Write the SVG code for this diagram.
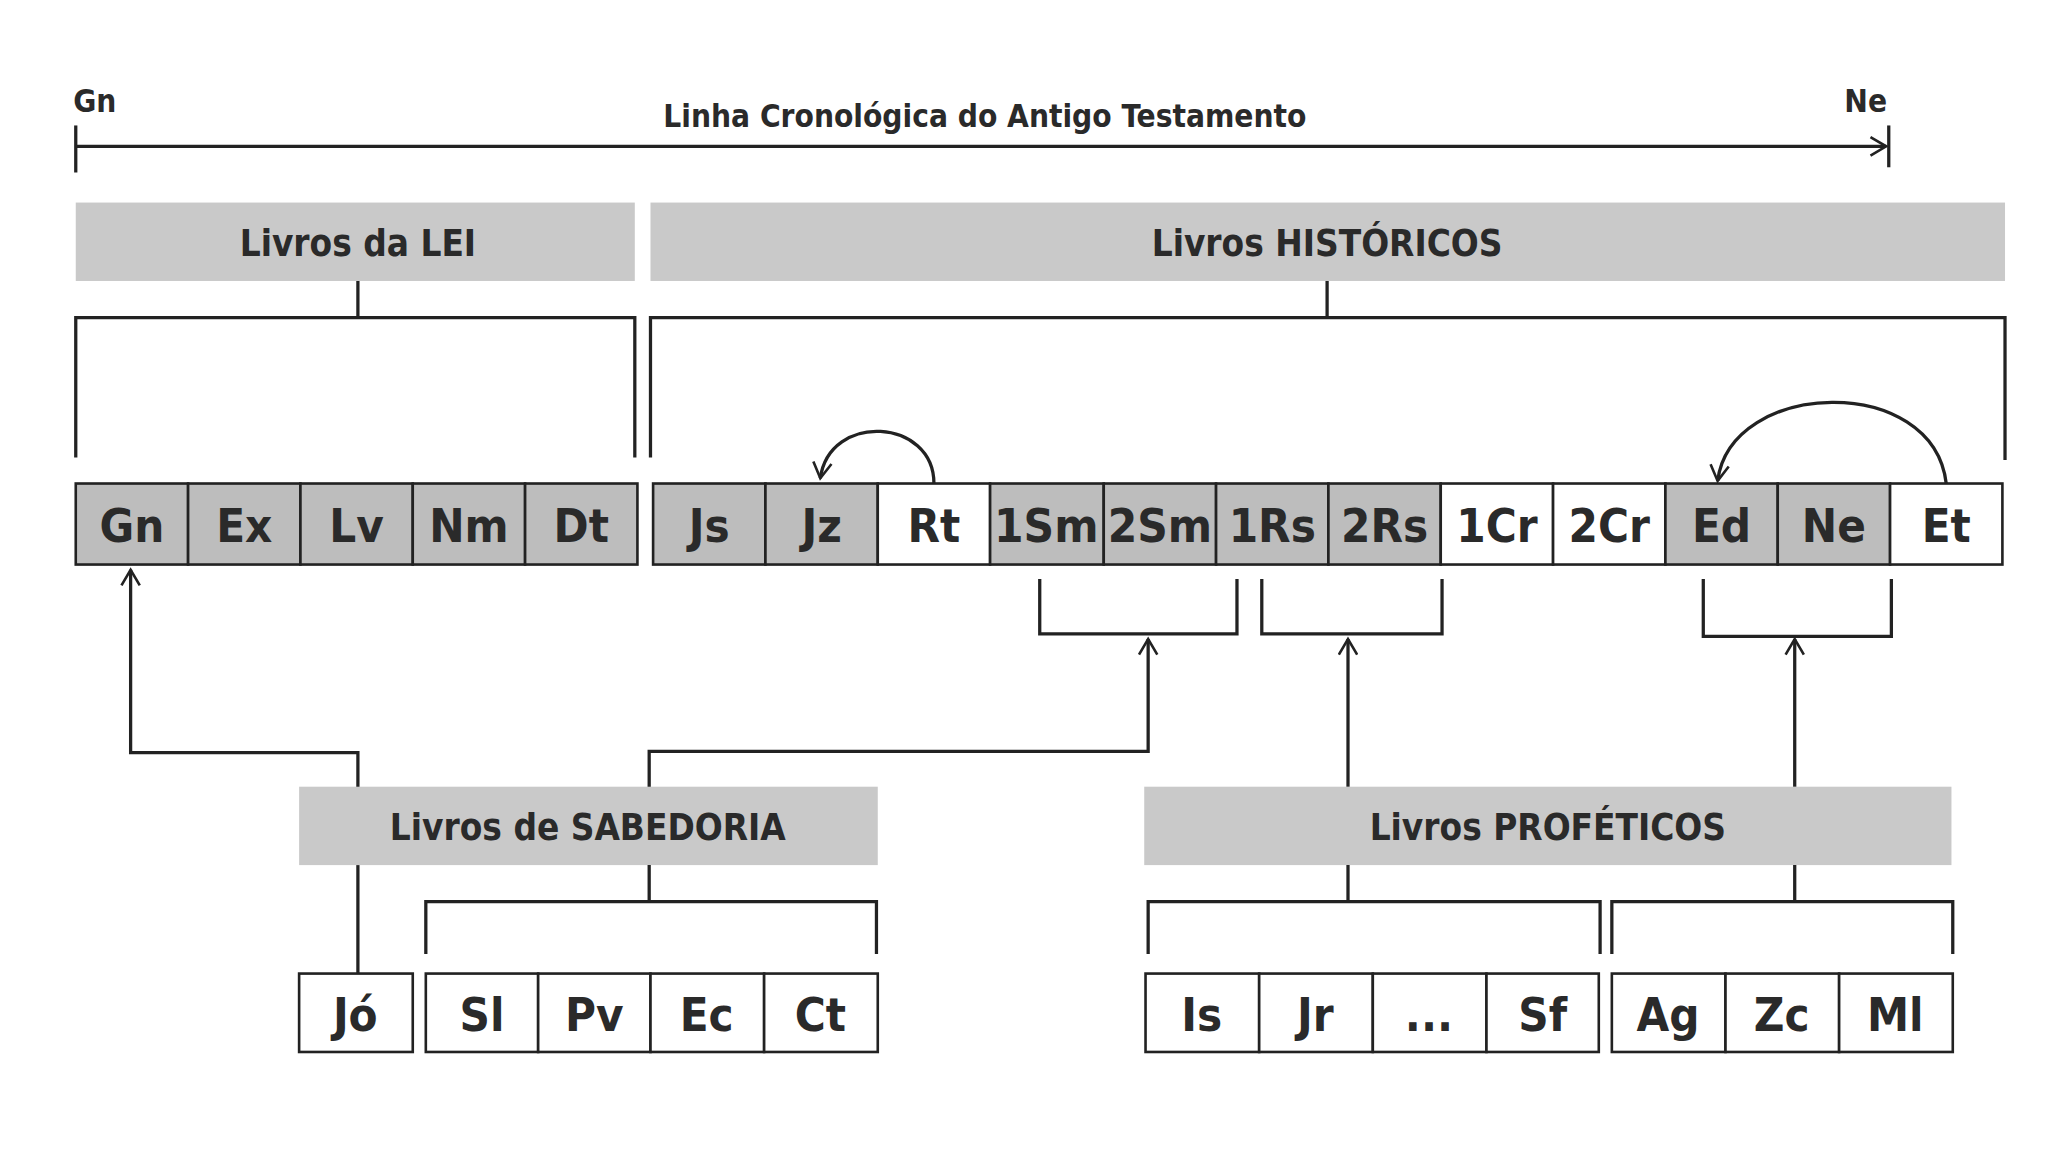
<svg xmlns="http://www.w3.org/2000/svg" width="2048" height="1152" viewBox="0 0 2048 1152">
<style>
.hd{fill:#c9c9c9}
.g{fill:#bdbdbd;stroke:#222;stroke-width:2}
.w{fill:#fff;stroke:#222;stroke-width:2}
.ln{fill:none;stroke:#222;stroke-width:2.5}
.ht{font-family:"DejaVu Sans Condensed","DejaVu Sans",sans-serif;font-size:28px;fill:#2a2a2a;text-anchor:middle;font-weight:bold}
.bt{font-family:"DejaVu Sans Condensed","DejaVu Sans",sans-serif;font-size:36px;fill:#2a2a2a;text-anchor:middle;font-weight:bold}
.st{font-family:"DejaVu Sans Condensed","DejaVu Sans",sans-serif;font-size:24px;fill:#2a2a2a;font-weight:bold}
</style>
<defs>
<marker id="a" markerWidth="16" markerHeight="16" refX="13" refY="8" orient="auto" markerUnits="userSpaceOnUse"><path d="M1,1 L13,8 L1,15" fill="none" stroke="#222" stroke-width="2"/></marker>
</defs>
<rect width="2048" height="1152" fill="#fff"/>
<g transform="scale(1.3062,1.3068)">
<g id="timeline">
<line class="ln" x1="58" y1="112" x2="1444" y2="112" marker-end="url(#a)"/>
<line class="ln" x1="58" y1="96" x2="58" y2="132"/>
<line class="ln" x1="1446" y1="96" x2="1446" y2="128"/>
<text class="st" x="56" y="86">Gn</text>
<text class="st" x="1412" y="86">Ne</text>
<text class="st" x="754" y="97" text-anchor="middle">Linha Cronológica do Antigo Testamento</text>
</g>
<g id="lei"><rect class="hd" x="58" y="155" width="428" height="60"/><text class="ht" x="274" y="196">Livros da LEI</text></g>
<g id="hist"><rect class="hd" x="498" y="155" width="1037" height="60"/><text class="ht" x="1016" y="196">Livros HISTÓRICOS</text></g>
<g id="sab"><rect class="hd" x="229" y="602" width="443" height="60"/><text class="ht" x="450" y="643">Livros de SABEDORIA</text></g>
<g id="prof"><rect class="hd" x="876" y="602" width="618" height="60"/><text class="ht" x="1185" y="643">Livros PROFÉTICOS</text></g>
<g id="books-lei">
<rect class="g" x="58" y="370" width="86" height="62"/><text class="bt" x="101" y="415">Gn</text>
<rect class="g" x="144" y="370" width="86" height="62"/><text class="bt" x="187" y="415">Ex</text>
<rect class="g" x="230" y="370" width="86" height="62"/><text class="bt" x="273" y="415">Lv</text>
<rect class="g" x="316" y="370" width="86" height="62"/><text class="bt" x="359" y="415">Nm</text>
<rect class="g" x="402" y="370" width="86" height="62"/><text class="bt" x="445" y="415">Dt</text>
</g>
<g id="books-hist">
<rect class="g" x="500" y="370" width="86" height="62"/><text class="bt" x="543" y="415">Js</text>
<rect class="g" x="586" y="370" width="86" height="62"/><text class="bt" x="629" y="415">Jz</text>
<rect class="w" x="672" y="370" width="86" height="62"/><text class="bt" x="715" y="415">Rt</text>
<rect class="g" x="758" y="370" width="87" height="62"/><text class="bt" x="801" y="415" textLength="80" lengthAdjust="spacingAndGlyphs">1Sm</text>
<rect class="g" x="845" y="370" width="86" height="62"/><text class="bt" x="888" y="415" textLength="80" lengthAdjust="spacingAndGlyphs">2Sm</text>
<rect class="g" x="931" y="370" width="86" height="62"/><text class="bt" x="974" y="415">1Rs</text>
<rect class="g" x="1017" y="370" width="86" height="62"/><text class="bt" x="1060" y="415">2Rs</text>
<rect class="w" x="1103" y="370" width="86" height="62"/><text class="bt" x="1146" y="415">1Cr</text>
<rect class="w" x="1189" y="370" width="86" height="62"/><text class="bt" x="1232" y="415">2Cr</text>
<rect class="g" x="1275" y="370" width="86" height="62"/><text class="bt" x="1318" y="415">Ed</text>
<rect class="g" x="1361" y="370" width="86" height="62"/><text class="bt" x="1404" y="415">Ne</text>
<rect class="w" x="1447" y="370" width="86" height="62"/><text class="bt" x="1490" y="415">Et</text>
</g>
<g id="books-sab">
<rect class="w" x="229" y="745" width="87" height="60"/><text class="bt" x="272" y="789">Jó</text>
<rect class="w" x="326" y="745" width="86" height="60"/><text class="bt" x="369" y="789">Sl</text>
<rect class="w" x="412" y="745" width="86" height="60"/><text class="bt" x="455" y="789">Pv</text>
<rect class="w" x="498" y="745" width="87" height="60"/><text class="bt" x="541" y="789">Ec</text>
<rect class="w" x="585" y="745" width="87" height="60"/><text class="bt" x="628" y="789">Ct</text>
</g>
<g id="books-prof">
<rect class="w" x="877" y="745" width="87" height="60"/><text class="bt" x="920" y="789">Is</text>
<rect class="w" x="964" y="745" width="87" height="60"/><text class="bt" x="1007" y="789">Jr</text>
<rect class="w" x="1051" y="745" width="87" height="60"/><text class="bt" x="1094" y="789">...</text>
<rect class="w" x="1138" y="745" width="86" height="60"/><text class="bt" x="1181" y="789">Sf</text>
<rect class="w" x="1234" y="745" width="87" height="60"/><text class="bt" x="1277" y="789">Ag</text>
<rect class="w" x="1321" y="745" width="87" height="60"/><text class="bt" x="1364" y="789">Zc</text>
<rect class="w" x="1408" y="745" width="87" height="60"/><text class="bt" x="1451" y="789">Ml</text>
</g>
<g id="connectors">
<path class="ln" d="M274,215 V243 M58,350 V243 H486 V350"/>
<path class="ln" d="M1016,215 V243 M498,350 V243 H1535 V352"/>
<path class="ln" d="M715,370 C715,320 635,315 628,366" marker-end="url(#a)"/>
<path class="ln" d="M1490,370 C1480,285 1325,290 1315,368" marker-end="url(#a)"/>
<path class="ln" d="M796,443 V485 H947 V443"/>
<path class="ln" d="M966,443 V485 H1104 V443"/>
<path class="ln" d="M1304,443 V487 H1448 V443"/>
<path class="ln" d="M274,602 V576 H100 V436" marker-end="url(#a)"/>
<path class="ln" d="M497,602 V575 H879 V489" marker-end="url(#a)"/>
<path class="ln" d="M1032,602 V489" marker-end="url(#a)"/>
<path class="ln" d="M1374,602 V489" marker-end="url(#a)"/>
<path class="ln" d="M274,662 V745"/>
<path class="ln" d="M497,662 V690 M326,730 V690 H671 V730"/>
<path class="ln" d="M1032,662 V690 M879,730 V690 H1225 V730"/>
<path class="ln" d="M1374,662 V690 M1234,730 V690 H1495 V730"/>
</g>
</g>
</svg>
